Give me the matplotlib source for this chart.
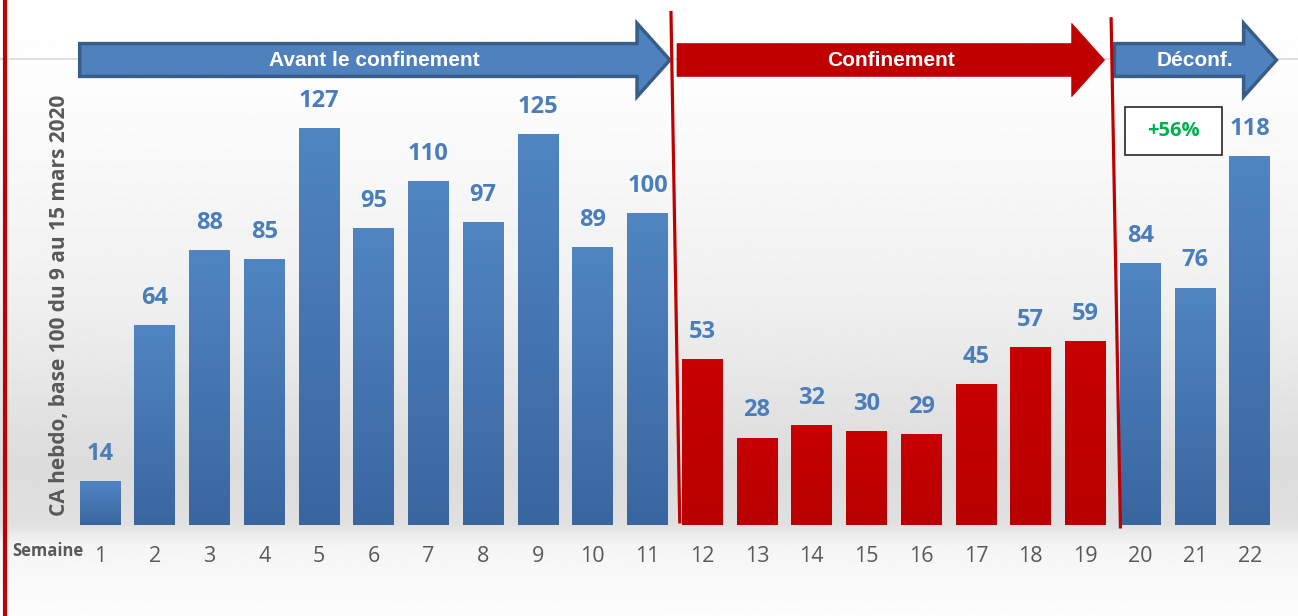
import matplotlib.pyplot as plt
import numpy as np
from matplotlib.patches import FancyArrow, Rectangle
from matplotlib.colors import LinearSegmentedColormap
from matplotlib.lines import Line2D

weeks = list(range(1, 23))
values = [14, 64, 88, 85, 127, 95, 110, 97, 125, 89, 100,
          53, 28, 32, 30, 29, 45, 57, 59, 84, 76, 118]
phases = [("Avant le confinement", 1, 11), ("Confinement", 12, 19), ("Déconf.", 20, 22)]
lockdown_weeks = range(12, 20)
growth_label = "+56%"

BLUE_TOP = "#5085c2"
BLUE_BOT = "#3a66a0"
RED = "#c00000"
LABEL_BLUE = "#4a7ebb"
GREY = "#595959"
FONT = "Open Sans"

fig = plt.figure(figsize=(12.98, 6.16), dpi=100)

# background gradient (white -> light grey near the baseline -> white)
bg = fig.add_axes([0, 0, 1, 1], zorder=-10)
ys = np.linspace(0, 616, 400)
prof = np.interp(ys, [0, 90, 300, 470, 525, 545, 616], [1.0, 0.99, 0.94, 0.86, 0.88, 0.96, 0.99])
bg.imshow(prof[:, None], cmap="gray", vmin=0, vmax=1, aspect="auto", extent=[0, 1, 0, 1])
bg.set_axis_off()

ax = fig.add_axes([72.6 / 1298, 91 / 616, (1277 - 72.6) / 1298, 525 / 616])
ax.set_facecolor("none")
ax.set_xlim(0.5, 22.5)
ax.set_ylim(0, 168)

ax.axhline(149, color="#d9d9d9", lw=1.2, zorder=0, xmin=-0.06, xmax=1.02, clip_on=False)

blue_cmap = LinearSegmentedColormap.from_list("b", [BLUE_BOT, BLUE_TOP])
red_cmap = LinearSegmentedColormap.from_list("r", ["#b80000", "#c80000"])
bars = ax.bar(weeks, values, width=0.74, color="none", zorder=2)
grad = np.linspace(0, 1, 100)[:, None]
for w, v, b in zip(weeks, values, bars):
    cmap = red_cmap if w in lockdown_weeks else blue_cmap
    im = ax.imshow(grad, cmap=cmap, origin="lower", aspect="auto",
                   extent=[b.get_x(), b.get_x() + b.get_width(), 0, v], zorder=2)
    im.set_clip_path(b)
    ax.text(w, v + 4.8, str(v), ha="center", va="bottom", fontsize=17,
            fontweight="bold", color=LABEL_BLUE, family=FONT)

ax.set_xticks(weeks)
ax.set_xticklabels([str(w) for w in weeks], fontsize=15.5, color=GREY, family=FONT)
ax.tick_params(axis="x", length=0, pad=15)
ax.set_yticks([])
for s in ax.spines.values():
    s.set_visible(False)

# phase arrows
arrow_bounds = {1: (0.63, 11.41), 12: (11.54, 19.35), 20: (19.53, 22.49)}
for name, first, last in phases:
    x0, x1 = arrow_bounds[first]
    red = first == 12
    fc = RED if red else "#4f81bd"
    ec = RED if red else "#385d8a"
    arr = FancyArrow(x0, 148.8, x1 - x0, 0, width=10.5, head_width=23.5, head_length=0.6,
                     length_includes_head=True, fc=fc, ec=ec, lw=0.5 if red else 2.5,
                     zorder=4, clip_on=False)
    ax.add_patch(arr)
    ax.text((x0 + x1) / 2, 148.8, name, ha="center", va="center", color="white",
            fontsize=15, fontweight="bold", family="Liberation Sans", zorder=5)

# phase separators
for xa, xb, ya, yb in [(11.43, 11.59, 164, 1), (19.47, 19.64, 162, -0.6)]:
    ax.add_line(Line2D([xa, xb], [ya, yb], color=RED, lw=2.3, zorder=6, clip_on=False))

# growth box
ax.add_patch(Rectangle((19.73, 118.4), 1.77, 15.3, fc="white", ec="#262626", lw=1.2, zorder=5))
ax.text(20.615, 126.1, growth_label, ha="center", va="center", fontsize=14.5,
        fontweight="bold", color="#00b050", family=FONT, zorder=6)

fig.text(60 / 1298, 1 - 305 / 616, "CA hebdo, base 100 du 9 au 15 mars 2020", rotation=90,
         ha="center", va="center", fontsize=15, fontweight="bold", color=GREY, family=FONT)
fig.text(12 / 1298, 1 - 551 / 616, "Semaine", ha="left", va="center", fontsize=12,
         fontweight="bold", color=GREY, family=FONT)

fig.add_artist(Line2D([5 / 1298, 5 / 1298], [0, 1], color=RED, lw=3, transform=fig.transFigure))

fig.savefig("out.png", dpi=100)
